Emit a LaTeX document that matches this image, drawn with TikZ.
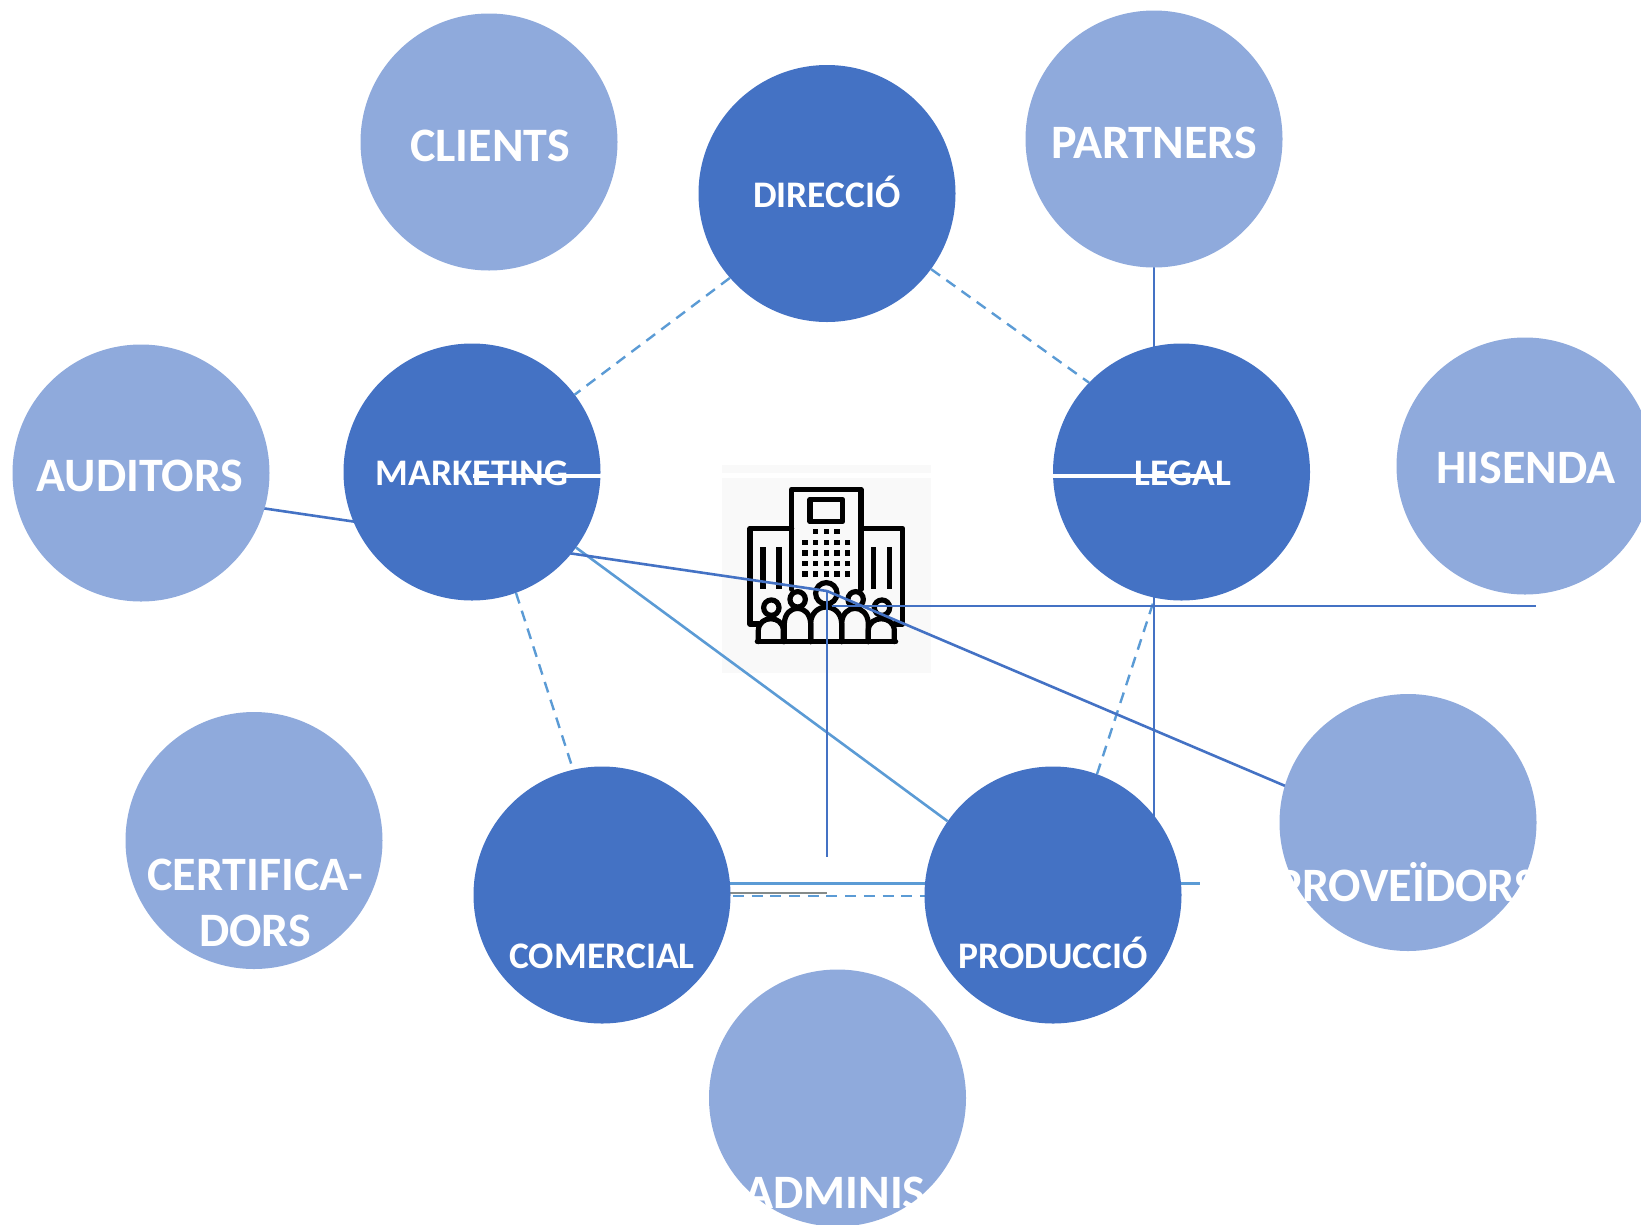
\documentclass[tikz,border=0pt]{standalone}
\usepackage{fontspec}
\setmainfont{Carlito}
\usetikzlibrary{backgrounds}
\definecolor{darkblue}{HTML}{4472C4}
\definecolor{lightblue}{HTML}{8FAADC}
\definecolor{linkblue}{HTML}{5B9BD5}
\definecolor{panelgrey}{HTML}{F9F9F9}
\definecolor{stubgrey}{HTML}{858B8A}
\tikzset{
  inner/.style={circle,fill=darkblue,draw=none,minimum size=257pt,inner sep=0pt},
  outer/.style={circle,fill=lightblue,draw=none,minimum size=257pt,inner sep=0pt},
  biglabel/.style={text=white,font=\bfseries\fontsize{48}{55}\selectfont,inner sep=0pt},
  smalllabel/.style={text=white,font=\bfseries\fontsize{37.5}{44}\selectfont,inner sep=0pt},
  solidlink/.style={draw=darkblue,line width=2.6pt},
  softlink/.style={draw=linkblue,line width=2.6pt},
  dashlink/.style={draw=linkblue,line width=2.4pt,dash pattern=on 11pt off 7.7pt},
  whitelink/.style={draw=white,line width=3.4pt},
  stublink/.style={draw=stubgrey,line width=2.6pt},
  iconline/.style={draw=black,line width=5.2pt,line join=round,line cap=round},
  iconhead/.style={draw=black,fill=panelgrey,line width=5.2pt},
  icondot/.style={fill=black,minimum size=5.2pt,inner sep=0pt}
}
\begin{document}
\begin{tikzpicture}[x=1pt,y=-1pt]
\useasboundingbox (0,0) rectangle (1641,1224);
\clip (0,0) rectangle (1641,1224);

% circles
\node[outer] (clients) at (489,142) {};
\node[outer] (partners) at (1154,139) {};
\node[outer] (hisenda) at (1525,466) {};
\node[outer] (auditors) at (141,473) {};
\node[outer] (certif) at (254,840.5) {};
\node[outer] (proveidors) at (1408,822.5) {};
\node[outer] (admin) at (837.5,1098) {};
\node[inner] (direccio) at (827,193.5) {};
\node[inner] (marketing) at (472,472) {};
\node[inner] (legal) at (1181.5,472) {};
\node[inner] (comercial) at (602,895) {};
\node[inner] (produccio) at (1053,895) {};

% free connector ends
\coordinate (hub) at (827,591);
\coordinate (hubright) at (832,606);
\coordinate (rightend) at (1536,606);
\coordinate (hubdown) at (827,857);
\coordinate (auditorsend) at (200,499);
\coordinate (proveidorsend) at (1330,805);
\coordinate (partnersend) at (1154,830);
\coordinate (comercialA) at (680,883.2);
\coordinate (produccioA) at (1200,883.2);
\coordinate (comercialB) at (680,893);
\coordinate (stubend) at (827,893);
\coordinate (mwhiteA) at (473,476);
\coordinate (mwhiteB) at (601,476);
\coordinate (lwhiteA) at (1053,476);
\coordinate (lwhiteB) at (1217,476);

\begin{scope}[on background layer]
  % centre icon
  \fill[panelgrey] (722,465) rectangle (931,473);
  \fill[panelgrey] (722,478) rectangle (931,673);
  \begin{scope}[shift={(700,440)},x=0.3333pt,y=-0.3333pt]
    \draw[iconline] (275,448) -- (275,148) -- (483,148) -- (483,448);
    \draw[iconline] (330,178) rectangle (428,245);
    \draw[iconline] (275,265) -- (150,265) -- (150,552) -- (175,552);
    \draw[iconline] (483,265) -- (608,265) -- (608,552) -- (583,552);
    \foreach \bx in {189,237,521,568} {\draw[draw=black,line width=5.2pt] (\bx,322) -- (\bx,448);}
    \foreach \dx in {347,379,411} {\node[icondot] at (\dx,275) {};}
    \foreach \dy in {307,339,370,402} {
      \foreach \dx in {315,347,379,411,442} {\node[icondot] at (\dx,\dy) {};}
    }
    \draw[iconhead] (379,460) circle[radius=10.7pt];
    \draw[iconhead] (293,478) circle[radius=7.7pt];
    \draw[iconhead] (467,478) circle[radius=7.7pt];
    \draw[iconhead] (214,503) circle[radius=7.7pt];
    \draw[iconhead] (546,503) circle[radius=7.7pt];
    \draw[iconline] (172,605) -- (587,605);
    \draw[iconline] (175,605) -- (175,570) .. controls (178,525) and (247,525) .. (250,570) -- (250,605);
    \draw[iconline] (253,605) -- (253,550) .. controls (256,490) and (329,490) .. (332,550) -- (332,605);
    \draw[iconline] (332,605) -- (332,550) .. controls (335,485) and (422,485) .. (425,550) -- (425,605);
    \draw[iconline] (425,605) -- (425,550) .. controls (428,490) and (502,490) .. (505,550) -- (505,605);
    \draw[iconline] (505,605) -- (505,570) .. controls (508,525) and (580,525) .. (583,570) -- (583,605);
  \end{scope}
  % dashed pentagon
  \draw[dashlink] (direccio.-36) -- (legal.136.7);
  \draw[dashlink] (direccio.221) -- (marketing.37);
  \draw[dashlink] (marketing.-70.7) -- (comercial.103);
  \draw[dashlink] ([yshift=-1.2pt]comercial.center) -- ([yshift=-1.2pt]produccio.center);
  \draw[dashlink] (produccio.70.4) -- (legal.258);
  % solid connectors
  \draw[softlink] (marketing.-36) -- (produccio.145);
  \draw[softlink] (comercialA) -- (produccioA);
  \draw[stublink] (comercialB) -- (stubend);
  \draw[solidlink] (partners.center) -- (partnersend);
  \draw[solidlink] (auditorsend) -- (hub);
  \draw[solidlink] (hub) -- (proveidorsend);
  \draw[solidlink] (hubright) -- (rightend);
  \draw[solidlink] (hub) -- (hubdown);
\end{scope}

% labels
\node[biglabel] (tclients) at (490,145.5) {CLIENTS};
\node[biglabel] (tpartners) at (1154,143) {PARTNERS};
\node[biglabel] (thisenda) at (1526,468) {HISENDA};
\node[biglabel] (tauditors) at (140,476) {AUDITORS};
\node[biglabel] (tcert) at (255,875) {CERTIFICA-};
\node[biglabel] (tdors) at (255,931) {DORS};
\node[biglabel] (tprov) at (1407,882) {PROVEÏDORS};
\node[biglabel] (tadmin) at (835,1193) {ADMINIS};
\node[smalllabel] (tdir) at (827,192) {DIRECCIÓ};
\node[smalllabel] (tmark) at (472,473) {MARKETING};
\node[smalllabel] (tlegal) at (1183,473) {LEGAL};
\node[smalllabel] (tcom) at (602,956) {COMERCIAL};
\node[smalllabel] (tprod) at (1053,953) {PRODUCCIÓ};

% white strokes over the two circles
\draw[whitelink] (mwhiteA) -- (mwhiteB);
\draw[whitelink] (lwhiteA) -- (lwhiteB);
\end{tikzpicture}
\end{document}
